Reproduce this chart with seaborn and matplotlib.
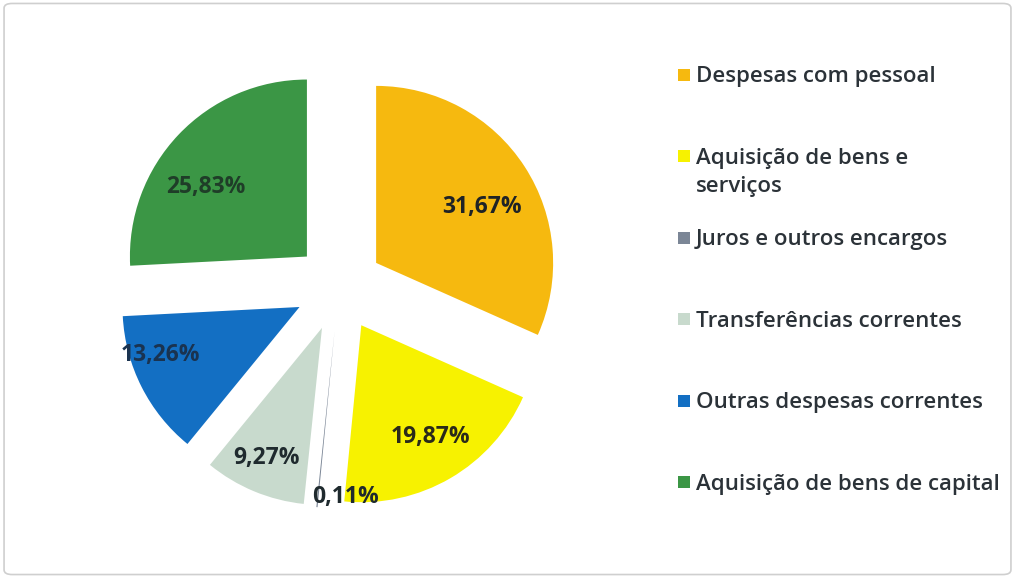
import matplotlib
matplotlib.use("Agg")
import matplotlib.pyplot as plt
import seaborn as sns
import numpy as np
from matplotlib.patches import FancyBboxPatch

# Data
categories = ["Despesas com pessoal", "Aquisição de bens e\nserviços",
              "Juros e outros encargos", "Transferências correntes",
              "Outras despesas correntes", "Aquisição de bens de capital"]
shares = [31.67, 19.87, 0.11, 9.27, 13.26, 25.83]
slice_colors = ["#F6B90F", "#F7F200", "#7B8696", "#C8DACD", "#136FC3", "#3B9645"]
label_colors = ["#1f2326", "#2a2a1a", "#1f2a2e", "#1f2a2e", "#1a3350", "#1f3d28"]
# label placement: distance from wedge centre and angular nudge (degrees)
label_dist = [0.676, 0.741, 0.939, 0.80, 0.833, 0.69]
label_turn = [-5, 1.4, 9.4, -0.3, -8, 9]

sns.set_theme(style="white")
plt.rcParams['font.family'] = ['Open Sans', 'DejaVu Sans']
palette = sns.color_palette(slice_colors)

fig = plt.figure(figsize=(10.15, 5.78), dpi=100)
fig.patch.set_facecolor("white")
fig.patches.append(FancyBboxPatch((0.004, 0.006), 0.992, 0.988,
                                  boxstyle="round,pad=0,rounding_size=0.008",
                                  transform=fig.transFigure, facecolor="none",
                                  edgecolor="#cfcfcf", linewidth=1.2))

# pie axes
ax = fig.add_axes([0.0724, 0.0441, 0.5232, 0.9187])
wedges, _, autotexts = ax.pie(shares, colors=palette, startangle=90, counterclock=False,
                              explode=[0.25] * len(shares), autopct=lambda p: "",
                              wedgeprops=dict(linewidth=0))
ax.set_xlim(-1.5, 1.5)
ax.set_ylim(-1.5, 1.5)
ax.set_aspect("equal")
ax.axis("off")

for w, t, v, d, turn, c in zip(wedges, autotexts, shares, label_dist, label_turn, label_colors):
    ang = np.deg2rad((w.theta1 + w.theta2) / 2 + turn)
    cx, cy = w.center
    t.set_position((cx + d * np.cos(ang), cy + d * np.sin(ang)))
    t.set_text(f"{v:.2f}".replace(".", ",") + "%")
    t.set_fontsize(16.5)
    t.set_fontweight("bold")
    t.set_color(c)

# legend, drawn as its own axes so wrapped labels keep even spacing
lax = fig.add_axes([0.655, 0.095, 0.34, 0.846])
lax.set_xlim(0, 1)
lax.set_ylim(5.5, -0.5)
lax.axis("off")
for i, (name, col) in enumerate(zip(categories, slice_colors)):
    lax.scatter(0.055, i, marker="s", s=85, color=col, linewidths=0)
    lax.text(0.09, i - 0.105, name, va="top", ha="left", fontsize=16,
             fontweight="semibold", color="#2b3238", linespacing=1.45)

fig.savefig("out.png", dpi=100)
